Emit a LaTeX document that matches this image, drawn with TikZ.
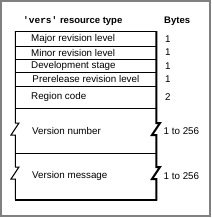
\documentclass[tikz,border=0pt]{standalone}
\usepackage{fontspec}
\setmainfont{Liberation Sans}
\setmonofont{Liberation Mono}
\usetikzlibrary{positioning}
\definecolor{framegray}{RGB}{128,128,128}

\begin{document}
\begin{tikzpicture}[
			x=1pt, y=-1pt,
			field/.style={anchor=west, inner sep=0pt, font=\fontsize{9.8}{11}\selectfont},
			bytes/.style={anchor=west, inner sep=0pt, font=\fontsize{9.8}{11}\selectfont},
			head/.style={anchor=west, inner sep=0pt, font=\fontsize{9.5}{11}\selectfont\bfseries},
			rule/.style={line width=1pt},
			edge/.style={line width=2pt}
		]
		\useasboundingbox (0,0) rectangle (212,218);
		\draw[framegray, line width=2pt] (1,1) rectangle (210,216);
		
		% Header
		\node[head] (title) at (23,21) {\texttt{'vers'} resource type};
		\node[head] (bytes) at (164,21) {Bytes};
		
		% Record outline
		\draw[rule] (15,31.5) -- (156,31.5);
		\draw[rule] (15.5,31) -- (15.5,123) -- (19,123) -- (11,135) -- (15.5,135) -- (15.5,167) -- (19,167) -- (11,179) -- (15.5,179) -- (15.5,199);
		\draw[edge] (156.5,31) -- (156.5,123) -- (160,123) -- (152,135) -- (156.5,135) -- (156.5,167) -- (160,167) -- (152,179) -- (156.5,179) -- (156.5,200.5);
		\draw[edge] (15,199.5) -- (157.5,199.5);
		\foreach \y in {46,59,72.5,86,108,153}
			\draw[rule] (15,\y) -- (156,\y);
		
		% Fields
		\node[field] (major) at (31,39) {Major revision level};
		\node[field] (minor) at (31,52.5) {Minor revision level};
		\node[field] (stage) at (31,65.8) {Development stage};
		\node[field] (prerel) at (32.3,79.3) {Prerelease revision level};
		\node[field] (region) at (31,97.3) {Region code};
		\node[field] (vnum) at (32,131) {Version number};
		\node[field] (vmsg) at (32,176) {Version message};
		
		% Sizes
		\node[bytes] (nmajor) at (165,39) {1};
		\node[bytes] (nminor) at (165,52.5) {1};
		\node[bytes] (nstage) at (165,65.8) {1};
		\node[bytes] (nprerel) at (165,79.3) {1};
		\node[bytes] (nregion) at (165,97.3) {2};
		\node[bytes] (nvnum) at (163.5,131) {1 to 256};
		\node[bytes] (nvmsg) at (163.5,176) {1 to 256};
\end{tikzpicture}
\end{document}
